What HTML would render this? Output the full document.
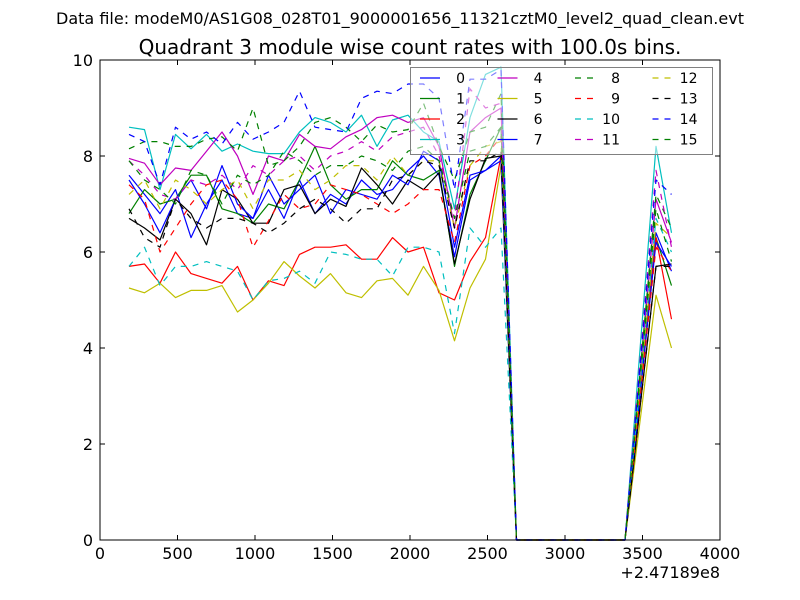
<!DOCTYPE html>
<html><head><meta charset="utf-8"><style>
body{margin:0;background:#fff}
svg{display:block;font-family:"DejaVu Sans","Liberation Sans",sans-serif}
</style></head><body>
<svg id="chart" width="800" height="600" viewBox="0 0 800 600" xmlns="http://www.w3.org/2000/svg">
<rect width="800" height="600" fill="#fff"/>
<text x="400" y="24" font-size="16" text-anchor="middle">Data file: modeM0/AS1G08_028T01_9000001656_11321cztM0_level2_quad_clean.evt</text>
<text x="410" y="54" font-size="20" text-anchor="middle">Quadrant 3 module wise count rates with 100.0s bins.</text>
<g id="series"></g>
<rect x="100" y="60" width="620" height="480" fill="none" stroke="#000" stroke-width="1"/>
<g id="ticks"></g>
<g id="legend"></g>
<text x="720" y="578" font-size="16" text-anchor="end">+2.47189e8</text>
</svg>
<script>
const xTimes=[187,287,387,487,587,687,787,887,987,1087,1187,1287,1387,1487,1587,1687,1787,1887,1987,2087,2187,2287,2387,2487,2587,2687,2787,2887,2987,3087,3187,3287,3387,3587,3687];
const xTicks=[0,500,1000,1500,2000,2500,3000,3500,4000];
const yTicks=[0,2,4,6,8,10];
const zeros=[0,0,0,0,0,0,0,0];
const s0=[7.6,7.2,6.8,7.3,6.3,7.0,7.5,6.8,6.7,7.3,6.7,7.5,6.8,7.2,7.0,7.5,7.2,7.3,7.7,8.0,7.6,5.9,7.5,7.7,8.0,...zeros,6.4,5.6];
const s1=[6.8,7.3,7.0,7.1,7.6,7.6,6.9,6.8,6.6,7.0,6.9,7.5,8.2,7.4,7.1,7.3,7.3,7.9,7.6,7.5,7.7,5.7,7.2,7.9,8.6,...zeros,6.3,5.3];
const s2=[5.7,5.75,5.35,6.0,5.55,5.45,5.35,5.7,5.0,5.4,5.3,5.95,6.1,6.1,6.15,5.85,5.85,6.3,6.0,6.1,5.15,5.0,5.8,6.3,8.0,...zeros,6.3,4.6];
const s3=[8.6,8.55,7.3,8.45,8.15,8.45,8.1,8.25,8.1,8.05,8.05,8.5,8.8,8.7,8.5,8.85,8.2,8.75,8.85,8.5,8.3,6.9,8.8,9.7,9.85,...zeros,8.2,6.4];
const s4=[7.95,7.85,7.4,7.75,7.7,8.1,8.5,8.0,7.2,8.0,7.9,8.45,8.2,8.15,8.4,8.55,8.8,8.85,8.7,8.8,8.2,6.5,8.5,8.8,9.0,...zeros,7.1,6.2];
const s5=[5.25,5.15,5.35,5.05,5.2,5.2,5.3,4.75,5.0,5.35,5.8,5.5,5.25,5.55,5.15,5.05,5.4,5.45,5.1,5.7,5.2,4.15,5.25,5.85,7.8,...zeros,5.1,4.0];
const s6=[6.7,6.5,6.25,7.1,6.8,6.15,7.3,7.1,6.6,6.6,7.3,7.4,6.8,7.1,6.95,7.75,7.4,7.0,7.5,7.3,7.65,5.75,7.1,7.95,8.0,...zeros,5.7,5.75];
const s7=[7.5,7.0,6.4,7.1,7.5,6.9,7.8,7.0,6.7,7.6,7.0,7.3,7.6,6.8,7.3,7.2,7.1,7.6,7.4,8.1,7.9,6.1,7.6,7.7,7.9,...zeros,6.2,5.7];
const s8=[8.15,8.3,8.3,8.2,8.2,8.35,8.4,8.1,9.0,7.8,7.9,8.2,8.7,8.8,8.6,8.3,8.65,8.5,8.55,9.1,8.2,7.5,8.5,8.6,9.3,...zeros,7.2,6.5];
const s9=[7.4,7.1,6.0,6.5,7.0,7.4,7.5,7.1,6.1,6.65,7.2,6.9,7.0,7.4,7.3,7.2,7.0,6.8,7.0,7.3,7.3,6.2,7.8,8.0,8.4,...zeros,6.1,5.6];
const s10=[5.7,6.1,5.3,5.7,5.7,5.8,5.7,5.6,5.0,5.4,5.45,5.6,5.35,6.0,5.95,5.85,5.85,5.5,6.1,6.1,6.0,4.3,6.5,6.1,6.5,...zeros,6.7,6.0];
const s11=[7.9,7.6,7.2,7.1,7.5,7.4,7.6,7.3,7.8,7.6,7.9,8.0,7.7,8.0,8.1,8.3,8.1,8.4,8.5,8.6,8.0,6.7,9.4,9.0,9.1,...zeros,7.7,6.1];
const s12=[7.2,7.5,6.9,7.5,7.3,7.0,7.3,7.5,6.9,7.5,7.5,7.7,7.3,7.5,7.8,7.8,7.5,8.0,7.6,7.9,7.9,6.5,7.8,8.2,8.3,...zeros,6.6,6.3];
const s13=[6.9,6.3,6.1,7.1,6.7,6.5,6.7,6.7,6.6,6.4,6.6,6.9,7.1,6.9,6.6,6.9,6.9,7.5,7.6,7.9,7.8,6.5,7.9,7.9,8.1,...zeros,5.7,5.7];
const s14=[8.45,8.3,7.4,8.6,8.35,8.5,8.25,8.7,8.35,8.5,8.7,9.35,8.6,8.55,8.5,9.2,9.35,9.3,9.5,9.5,9.2,7.3,9.6,9.6,9.8,...zeros,7.5,7.2];
const s15=[7.9,7.5,7.3,7.0,7.7,7.6,7.0,7.6,7.4,7.6,8.1,7.9,7.6,7.8,7.8,8.0,7.9,7.7,8.1,8.2,7.9,6.7,8.1,8.2,8.6,...zeros,6.9,5.8];
const seriesLabels=['0','1','2','3','4','5','6','7','8','9','10','11','12','13','14','15'];
const allSeries=[s0,s1,s2,s3,s4,s5,s6,s7,s8,s9,s10,s11,s12,s13,s14,s15];
const colors=['#0000ff','#008000','#ff0000','#00bfbf','#bf00bf','#bfbf00','#000000','#0000ff','#008000','#ff0000','#00bfbf','#bf00bf','#bfbf00','#000000','#0000ff','#008000'];
const NS='http://www.w3.org/2000/svg';
const X0=100,X1=720,Y0=540,Y1=60;
function xs(v){return X0+(v-0)/4000*(X1-X0);}
function ys(v){return Y0-(v-0)/10*(Y0-Y1);}
function mk(tag,attrs,parent){const e=document.createElementNS(NS,tag);for(const k in attrs)e.setAttribute(k,attrs[k]);parent.appendChild(e);return e;}
const sg=document.getElementById('series');
allSeries.forEach((vals,i)=>{
  const d=vals.map((v,j)=>(j?'L':'M')+xs(xTimes[j]).toFixed(1)+','+ys(v).toFixed(1)).join('');
  const p=mk('path',{d:d,fill:'none',stroke:colors[i],'stroke-width':1.2,'stroke-linejoin':'round'},sg);
  if(i>=8)p.setAttribute('stroke-dasharray','6,6');
  
  
});
const tg=document.getElementById('ticks');
xTicks.forEach(t=>{
  const x=xs(t);
  const a=mk('path',{d:`M${x},${Y0}v-5M${x},${Y1}v5`,stroke:'#000'},tg);
  
  
  const l=mk('text',{x:x,y:Y0+19,'font-size':16,'text-anchor':'middle'},tg);
  l.textContent=t;
  
  
});
yTicks.forEach(t=>{
  const y=ys(t);
  const a=mk('path',{d:`M${X0},${y}h5M${X1},${y}h-5`,stroke:'#000'},tg);
  
  
  const l=mk('text',{x:X0-7,y:y+6,'font-size':16,'text-anchor':'end'},tg);
  l.textContent=t;
  
  
});
const lg=document.getElementById('legend');
const box=mk('rect',{x:410.5,y:67.5,width:302,height:87,fill:'rgba(255,255,255,0.5)',stroke:'#808080','stroke-width':1},lg);


seriesLabels.forEach((lab,i)=>{
  const col=Math.floor(i/4),row=i%4;
  const x=420+col*77.5,y=78+row*20.5;
  const ln=mk('line',{x1:x,y1:y,x2:x+20,y2:y,stroke:colors[i],'stroke-width':1.2},lg);
  if(i>=8)ln.setAttribute('stroke-dasharray','6,6');
  
  
  const t=mk('text',{x:x+45,y:y+5,'font-size':14,'text-anchor':'end'},lg);
  t.textContent=lab;
  
  
});
</script>
</body></html>
